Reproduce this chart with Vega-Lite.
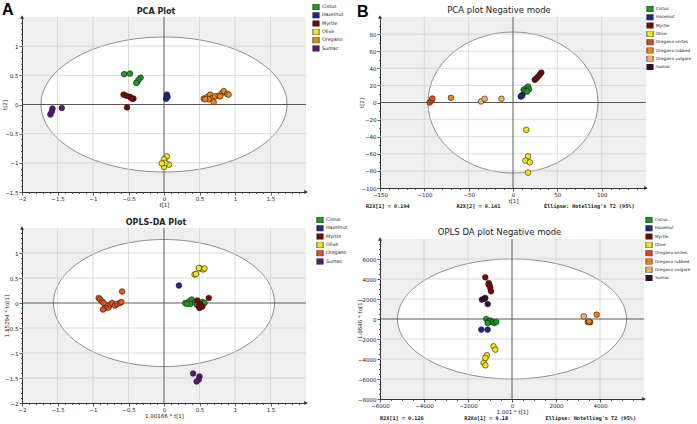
{
"$schema": "https://vega.github.io/schema/vega-lite/v6.json",
"padding": {"left": 2, "top": 2, "right": 0, "bottom": 0},
"background": "white",
"config": {
  "font": "DejaVu Sans",
  "view": {"fill": "#efefef", "stroke": null},
  "axis": {"labelFont": "DejaVu Sans", "titleFont": "DejaVu Sans", "labelFontSize": 5.5, "titleFontSize": 5.5, "titleFontWeight": "normal", "labelColor": "#222", "titleColor": "#222", "domainColor": "#333", "domainWidth": 1, "tickColor": "#333", "tickWidth": 0.8, "labelPadding": 1, "titlePadding": 1, "grid": false, "labelOverlap": false, "labelFlush": false},
  "legend": {"orient": "none", "symbolType": "square", "symbolSize": 40, "symbolStrokeColor": "#222", "symbolStrokeWidth": 0.7, "labelFont": "DejaVu Sans", "labelFontSize": 4.8, "labelColor": "#222", "rowPadding": 2.3, "clipHeight": 6, "labelOffset": 2, "padding": 0},
  "title": {"font": "DejaVu Sans", "color": "#222", "fontSize": 8}
},
"datasets": {
  "pA": [
    {"g":"Cistus","x":-0.56,"y":0.52},{"g":"Cistus","x":-0.48,"y":0.53},{"g":"Cistus","x":-0.38,"y":0.38},{"g":"Cistus","x":-0.33,"y":0.46},{"g":"Cistus","x":-0.36,"y":0.42},{"g":"Cistus","x":-0.39,"y":0.37},
    {"g":"Hazelnut","x":0.04,"y":0.17},{"g":"Hazelnut","x":0.03,"y":0.10},{"g":"Hazelnut","x":0.05,"y":0.13},
    {"g":"Myrtle","x":-0.57,"y":0.17},{"g":"Myrtle","x":-0.53,"y":0.15},{"g":"Myrtle","x":-0.48,"y":0.13},{"g":"Myrtle","x":-0.43,"y":0.10},{"g":"Myrtle","x":-0.45,"y":0.10},{"g":"Myrtle","x":-0.52,"y":-0.05},
    {"g":"Olive","x":0.04,"y":-0.89},{"g":"Olive","x":0.0,"y":-0.94},{"g":"Olive","x":0.07,"y":-1.03},{"g":"Olive","x":0.0,"y":-1.07},{"g":"Olive","x":0.02,"y":-1.0},{"g":"Olive","x":-0.03,"y":-1.01},
    {"g":"Oregano","x":0.56,"y":0.10},{"g":"Oregano","x":0.61,"y":0.13},{"g":"Oregano","x":0.65,"y":0.17},{"g":"Oregano","x":0.68,"y":0.11},{"g":"Oregano","x":0.63,"y":0.09},{"g":"Oregano","x":0.70,"y":0.04},{"g":"Oregano","x":0.72,"y":0.14},{"g":"Oregano","x":0.77,"y":0.15},{"g":"Oregano","x":0.82,"y":0.20},{"g":"Oregano","x":0.84,"y":0.23},{"g":"Oregano","x":0.89,"y":0.18},{"g":"Oregano","x":0.91,"y":0.17},{"g":"Oregano","x":0.79,"y":0.14},{"g":"Oregano","x":0.58,"y":0.09},
    {"g":"Sumac","x":-1.57,"y":-0.07},{"g":"Sumac","x":-1.60,"y":-0.17},{"g":"Sumac","x":-1.44,"y":-0.06},{"g":"Sumac","x":-1.58,"y":-0.12}
  ],
  "pB": [
    {"g":"Cistus","x":12,"y":14.8},{"g":"Cistus","x":15,"y":16.8},{"g":"Cistus","x":17,"y":18.7},{"g":"Cistus","x":13,"y":12.9},{"g":"Cistus","x":18,"y":15.6},{"g":"Cistus","x":16,"y":13},
    {"g":"Hazelnut","x":8.7,"y":7},{"g":"Hazelnut","x":10.5,"y":8.6},{"g":"Hazelnut","x":9.5,"y":7.5},
    {"g":"Myrtle","x":24.5,"y":26.5},{"g":"Myrtle","x":26,"y":28},{"g":"Myrtle","x":28,"y":30},{"g":"Myrtle","x":30,"y":32.5},{"g":"Myrtle","x":32,"y":35},
    {"g":"Olive","x":15,"y":-32},{"g":"Olive","x":17,"y":-63},{"g":"Olive","x":14,"y":-68},{"g":"Olive","x":19,"y":-70},{"g":"Olive","x":17,"y":-82},
    {"g":"Oregano onites","x":-94,"y":0},{"g":"Oregano onites","x":-92,"y":2.3},{"g":"Oregano onites","x":-91,"y":4.7},
    {"g":"Oregano rubbed","x":-70,"y":5.5},
    {"g":"Oregano vulgare","x":-36,"y":1.2},{"g":"Oregano vulgare","x":-32,"y":4.3},{"g":"Oregano vulgare","x":-13,"y":4.3}
  ],
  "pC": [
    {"g":"Oregano","x":-0.92,"y":0.10},{"g":"Oregano","x":-0.90,"y":0.07},{"g":"Oregano","x":-0.87,"y":0.03},{"g":"Oregano","x":-0.85,"y":0.0},{"g":"Oregano","x":-0.83,"y":-0.10},{"g":"Oregano","x":-0.86,"y":-0.13},{"g":"Oregano","x":-0.78,"y":-0.09},{"g":"Oregano","x":-0.76,"y":-0.03},{"g":"Oregano","x":-0.73,"y":0.0},{"g":"Oregano","x":-0.69,"y":-0.05},{"g":"Oregano","x":-0.66,"y":-0.02},{"g":"Oregano","x":-0.62,"y":0.0},{"g":"Oregano","x":-0.60,"y":0.02},{"g":"Oregano","x":-0.59,"y":0.23},
    {"g":"Hazelnut","x":0.21,"y":0.35},
    {"g":"Olive","x":0.43,"y":0.57},{"g":"Olive","x":0.45,"y":0.58},{"g":"Olive","x":0.51,"y":0.69},{"g":"Olive","x":0.55,"y":0.67},{"g":"Olive","x":0.57,"y":0.69},{"g":"Olive","x":0.49,"y":0.70},
    {"g":"Cistus","x":0.30,"y":0.0},{"g":"Cistus","x":0.35,"y":0.03},{"g":"Cistus","x":0.39,"y":0.07},{"g":"Cistus","x":0.37,"y":-0.02},{"g":"Cistus","x":0.44,"y":0.02},{"g":"Cistus","x":0.46,"y":-0.03},{"g":"Cistus","x":0.54,"y":0.02},{"g":"Cistus","x":0.57,"y":0.0},{"g":"Cistus","x":0.32,"y":-0.02},
    {"g":"Myrtle","x":0.47,"y":0.05},{"g":"Myrtle","x":0.51,"y":-0.02},{"g":"Myrtle","x":0.50,"y":-0.10},{"g":"Myrtle","x":0.54,"y":-0.07},{"g":"Myrtle","x":0.63,"y":0.10},{"g":"Myrtle","x":0.49,"y":-0.07},
    {"g":"Sumac","x":0.41,"y":-1.41},{"g":"Sumac","x":0.50,"y":-1.47},{"g":"Sumac","x":0.49,"y":-1.53},{"g":"Sumac","x":0.46,"y":-1.57}
  ],
  "pD": [
    {"g":"Cistus","x":-1168,"y":0},{"g":"Cistus","x":-1061,"y":-230},{"g":"Cistus","x":-986,"y":-160},{"g":"Cistus","x":-909,"y":-300},{"g":"Cistus","x":-805,"y":-400},{"g":"Cistus","x":-714,"y":-300},{"g":"Cistus","x":-1106,"y":-400},
    {"g":"Hazelnut","x":-1395,"y":-1060},{"g":"Hazelnut","x":-1106,"y":-1060},
    {"g":"Myrtle","x":-1214,"y":4170},{"g":"Myrtle","x":-1061,"y":3600},{"g":"Myrtle","x":-1015,"y":3330},{"g":"Myrtle","x":-986,"y":3100},{"g":"Myrtle","x":-955,"y":2770},{"g":"Myrtle","x":-1061,"y":3440},
    {"g":"Olive","x":-840,"y":-2730},{"g":"Olive","x":-760,"y":-3060},{"g":"Olive","x":-1140,"y":-3630},{"g":"Olive","x":-1210,"y":-3900},{"g":"Olive","x":-1290,"y":-4400},{"g":"Olive","x":-1210,"y":-4630},
    {"g":"Oregano vulgare","x":3260,"y":270},
    {"g":"Oregano onites","x":3450,"y":-300},{"g":"Oregano onites","x":3550,"y":-320},
    {"g":"Oregano rubbed","x":3500,"y":-250},{"g":"Oregano rubbed","x":3850,"y":430},
    {"g":"Sumac","x":-1364,"y":1940},{"g":"Sumac","x":-1214,"y":2100},{"g":"Sumac","x":-1106,"y":1500},{"g":"Sumac","x":-1259,"y":2040}
  ],
  "gAx": [{"x":-1.5},{"x":-1},{"x":-0.5},{"x":0.5},{"x":1},{"x":1.5}],
  "gAy": [{"y":-1},{"y":-0.5},{"y":0.5},{"y":1}],
  "gCy": [{"y":-1.5},{"y":-1},{"y":-0.5},{"y":0.5},{"y":1}],
  "gBx": [{"x":-100},{"x":-50},{"x":50},{"x":100}],
  "gBy": [{"y":-80},{"y":-60},{"y":-40},{"y":-20},{"y":20},{"y":40},{"y":60},{"y":80}],
  "gDx": [{"x":-4000},{"x":-2000},{"x":2000},{"x":4000}],
  "gDy": [{"y":-6000},{"y":-4000},{"y":-2000},{"y":2000},{"y":4000},{"y":6000}]
},
"resolve": {"scale": {"color": "independent", "x": "independent", "y": "independent"}, "legend": {"color": "independent"}},
"spacing": 9,
"hconcat": [
{
  "title": {"text": "A", "anchor": "start", "frame": "bounds", "font": "Liberation Sans", "fontSize": 16, "fontWeight": "bold", "color": "#000", "offset": -14},
  "spacing": 9,
  "resolve": {"scale": {"color": "independent", "x": "independent", "y": "independent"}, "legend": {"color": "independent"}},
  "vconcat": [
  {
    "width": 284, "height": 175,
    "title": {"text": "PCA Plot", "anchor": "middle", "fontWeight": "bold", "fontSize": 8, "offset": -11.5, "dx": -8},
    "data": {"values": [{}]},
    "resolve": {"axis": {"x": "independent", "y": "independent"}},
    "layer": [
      {"mark": {"type": "point", "shape": "M-123,0C-123,-37.3,-67.9,-67.5,0,-67.5C67.9,-67.5,123,-37.3,123,0C123,37.3,67.9,67.5,0,67.5C-67.9,67.5,-123,37.3,-123,0Z", "size": 4, "filled": true, "fill": "#ffffff", "stroke": "#808080", "strokeWidth": 0.9, "opacity": 1},
       "encoding": {"x": {"datum": 0, "type": "quantitative", "scale": {"domain": [-2, 2], "nice": false}, "axis": null}, "y": {"datum": 0, "type": "quantitative", "scale": {"domain": [-1.5, 1.5], "nice": false}, "axis": null}}},
      {"data": {"name": "gAx"}, "mark": {"type": "rule", "color": "#d2d2d2", "strokeWidth": 0.8},
       "encoding": {"x": {"field": "x", "type": "quantitative", "scale": {"domain": [-2, 2], "nice": false}, "axis": null}}},
      {"data": {"name": "gAy"}, "mark": {"type": "rule", "color": "#d2d2d2", "strokeWidth": 0.8},
       "encoding": {"y": {"field": "y", "type": "quantitative", "scale": {"domain": [-1.5, 1.5], "nice": false}, "axis": null}}},
      {"mark": {"type": "rule", "color": "#5a5a5a", "strokeWidth": 1},
       "encoding": {"x": {"datum": 0, "type": "quantitative", "scale": {"domain": [-2, 2], "nice": false}, "axis": null}}},
      {"mark": {"type": "rule", "color": "#5a5a5a", "strokeWidth": 1},
       "encoding": {"y": {"datum": 0, "type": "quantitative", "scale": {"domain": [-1.5, 1.5], "nice": false}, "axis": null}}},
      {"mark": {"type": "point", "shape": "triangle-right", "size": 16, "filled": true, "color": "#333", "opacity": 1},
       "encoding": {"x": {"datum": 2, "type": "quantitative", "scale": {"domain": [-2, 2], "nice": false}, "axis": null}, "y": {"datum": -1.5, "type": "quantitative", "scale": {"domain": [-1.5, 1.5], "nice": false}, "axis": null}}},
      {"mark": {"type": "point", "shape": "triangle-up", "size": 16, "filled": true, "color": "#333", "opacity": 1},
       "encoding": {"x": {"datum": -2, "type": "quantitative", "scale": {"domain": [-2, 2], "nice": false}, "axis": null}, "y": {"datum": 1.5, "type": "quantitative", "scale": {"domain": [-1.5, 1.5], "nice": false}, "axis": null}}},
      {"data": {"name": "pA"}, "mark": {"type": "point", "filled": true, "size": 32, "stroke": "#1a1a1a", "strokeWidth": 0.6, "opacity": 1},
       "encoding": {
         "x": {"field": "x", "type": "quantitative", "scale": {"domain": [-2, 2], "nice": false},
               "axis": {"title": "t[1]", "format": "~g", "values": [-2,-1.9,-1.8,-1.7,-1.6,-1.5,-1.4,-1.3,-1.2,-1.1,-1,-0.9,-0.8,-0.7,-0.6,-0.5,-0.4,-0.3,-0.2,-0.1,0,0.1,0.2,0.3,0.4,0.5,0.6,0.7,0.8,0.9,1,1.1,1.2,1.3,1.4,1.5,1.6,1.7,1.8,1.9],
                        "labelExpr": "abs(datum.value*2-round(datum.value*2))<0.001 ? datum.label : ''",
                        "tickSize": {"condition": {"test": "abs(datum.value*2-round(datum.value*2))<0.001", "value": 3}, "value": 1.5}}},
         "y": {"field": "y", "type": "quantitative", "scale": {"domain": [-1.5, 1.5], "nice": false},
               "axis": {"title": "t[2]", "format": "~g", "values": [-1.5,-1.4,-1.3,-1.2,-1.1,-1,-0.9,-0.8,-0.7,-0.6,-0.5,-0.4,-0.3,-0.2,-0.1,0,0.1,0.2,0.3,0.4,0.5,0.6,0.7,0.8,0.9,1,1.1,1.2,1.3,1.4],
                        "labelExpr": "abs(datum.value*2-round(datum.value*2))<0.001 ? datum.label : ''",
                        "tickSize": {"condition": {"test": "abs(datum.value*2-round(datum.value*2))<0.001", "value": 3}, "value": 1.5},
                        "minExtent": 14, "maxExtent": 14}},
         "color": {"field": "g", "type": "nominal",
                   "scale": {"domain": ["Cistus","Hazelnut","Myrtle","Olive","Oregano","Sumac"], "range": ["#229a22","#1c2a8a","#780808","#f4e61a","#f08412","#5a187a"]},
                   "legend": {"title": null, "legendX": 290, "legendY": -13}}
       }}
    ]
  },
  {
    "width": 284, "height": 175,
    "title": {"text": "OPLS-DA Plot", "anchor": "middle", "fontWeight": "bold", "fontSize": 8, "offset": -10, "dx": -8},
    "data": {"values": [{}]},
    "resolve": {"axis": {"x": "independent", "y": "independent"}},
    "layer": [
      {"mark": {"type": "point", "shape": "M-110.5,0C-110.5,-35.1,-61,-63.5,0,-63.5C61,-63.5,110.5,-35.1,110.5,0C110.5,35.1,61,63.5,0,63.5C-61,63.5,-110.5,35.1,-110.5,0Z", "size": 4, "filled": true, "fill": "#ffffff", "stroke": "#808080", "strokeWidth": 0.9, "opacity": 1},
       "encoding": {"x": {"datum": 0, "type": "quantitative", "scale": {"domain": [-2, 2], "nice": false}, "axis": null}, "y": {"datum": 0, "type": "quantitative", "scale": {"domain": [-2, 1.5], "nice": false}, "axis": null}}},
      {"data": {"name": "gAx"}, "mark": {"type": "rule", "color": "#d2d2d2", "strokeWidth": 0.8},
       "encoding": {"x": {"field": "x", "type": "quantitative", "scale": {"domain": [-2, 2], "nice": false}, "axis": null}}},
      {"data": {"name": "gCy"}, "mark": {"type": "rule", "color": "#d2d2d2", "strokeWidth": 0.8},
       "encoding": {"y": {"field": "y", "type": "quantitative", "scale": {"domain": [-2, 1.5], "nice": false}, "axis": null}}},
      {"mark": {"type": "rule", "color": "#5a5a5a", "strokeWidth": 1},
       "encoding": {"x": {"datum": 0, "type": "quantitative", "scale": {"domain": [-2, 2], "nice": false}, "axis": null}}},
      {"mark": {"type": "rule", "color": "#5a5a5a", "strokeWidth": 1},
       "encoding": {"y": {"datum": 0, "type": "quantitative", "scale": {"domain": [-2, 1.5], "nice": false}, "axis": null}}},
      {"mark": {"type": "point", "shape": "triangle-right", "size": 16, "filled": true, "color": "#333", "opacity": 1},
       "encoding": {"x": {"datum": 2, "type": "quantitative", "scale": {"domain": [-2, 2], "nice": false}, "axis": null}, "y": {"datum": -2, "type": "quantitative", "scale": {"domain": [-2, 1.5], "nice": false}, "axis": null}}},
      {"mark": {"type": "point", "shape": "triangle-up", "size": 16, "filled": true, "color": "#333", "opacity": 1},
       "encoding": {"x": {"datum": -2, "type": "quantitative", "scale": {"domain": [-2, 2], "nice": false}, "axis": null}, "y": {"datum": 1.5, "type": "quantitative", "scale": {"domain": [-2, 1.5], "nice": false}, "axis": null}}},
      {"data": {"name": "pC"}, "mark": {"type": "point", "filled": true, "size": 32, "stroke": "#1a1a1a", "strokeWidth": 0.6, "opacity": 1},
       "encoding": {
         "x": {"field": "x", "type": "quantitative", "scale": {"domain": [-2, 2], "nice": false},
               "axis": {"title": "1.00166 * t[1]", "format": "~g", "values": [-2,-1.9,-1.8,-1.7,-1.6,-1.5,-1.4,-1.3,-1.2,-1.1,-1,-0.9,-0.8,-0.7,-0.6,-0.5,-0.4,-0.3,-0.2,-0.1,0,0.1,0.2,0.3,0.4,0.5,0.6,0.7,0.8,0.9,1,1.1,1.2,1.3,1.4,1.5,1.6,1.7,1.8,1.9],
                        "labelExpr": "abs(datum.value*2-round(datum.value*2))<0.001 ? datum.label : ''",
                        "tickSize": {"condition": {"test": "abs(datum.value*2-round(datum.value*2))<0.001", "value": 3}, "value": 1.5}}},
         "y": {"field": "y", "type": "quantitative", "scale": {"domain": [-2, 1.5], "nice": false},
               "axis": {"title": "1.15294 * to[1]", "format": "~g", "values": [-2,-1.9,-1.8,-1.7,-1.6,-1.5,-1.4,-1.3,-1.2,-1.1,-1,-0.9,-0.8,-0.7,-0.6,-0.5,-0.4,-0.3,-0.2,-0.1,0,0.1,0.2,0.3,0.4,0.5,0.6,0.7,0.8,0.9,1,1.1,1.2,1.3,1.4],
                        "labelExpr": "abs(datum.value*2-round(datum.value*2))<0.001 ? datum.label : ''",
                        "tickSize": {"condition": {"test": "abs(datum.value*2-round(datum.value*2))<0.001", "value": 3}, "value": 1.5},
                        "minExtent": 12, "maxExtent": 12}},
         "color": {"field": "g", "type": "nominal",
                   "scale": {"domain": ["Cistus","Hazelnut","Myrtle","Olive","Oregano","Sumac"], "range": ["#229a22","#1c2a8a","#780808","#f4e61a","#ea5218","#5a187a"]},
                   "legend": {"title": null, "legendX": 294, "legendY": -11}}
       }}
    ]
  }
  ]
},
{
  "title": {"text": "B", "anchor": "start", "frame": "bounds", "font": "Liberation Sans", "fontSize": 16, "fontWeight": "bold", "color": "#000", "offset": -14},
  "spacing": 7,
  "resolve": {"scale": {"color": "independent", "x": "independent", "y": "independent"}, "legend": {"color": "independent"}},
  "vconcat": [
  {
    "title": {"text": "PCA plot Negative mode", "anchor": "middle", "fontWeight": "normal", "fontSize": 8.5, "offset": -8, "dx": -26},
    "vconcat": [
    {
      "width": 266, "height": 171,
      "title": {"text": "R2X[1] = 0.194\u00a0\u00a0\u00a0\u00a0\u00a0\u00a0\u00a0\u00a0\u00a0\u00a0\u00a0\u00a0\u00a0\u00a0\u00a0R2X[2] = 0.141\u00a0\u00a0\u00a0\u00a0\u00a0\u00a0\u00a0\u00a0\u00a0\u00a0\u00a0\u00a0\u00a0\u00a0Ellipse: Hotelling's T2 (95%)", "orient": "bottom", "anchor": "start", "frame": "bounds", "font": "DejaVu Sans Mono", "fontSize": 5.2, "fontWeight": "bold", "color": "#111", "offset": 0, "dx": 7},
      "data": {"values": [{}]},
      "resolve": {"axis": {"x": "independent", "y": "independent"}},
      "layer": [
        {"mark": {"type": "point", "shape": "M-85,0C-85,-38.9,-46.9,-70.5,0,-70.5C46.9,-70.5,85,-38.9,85,0C85,38.9,46.9,70.5,0,70.5C-46.9,70.5,-85,38.9,-85,0Z", "size": 4, "filled": true, "fill": "#ffffff", "stroke": "#808080", "strokeWidth": 0.9, "opacity": 1},
         "encoding": {"x": {"datum": 0, "type": "quantitative", "scale": {"domain": [-150, 150], "nice": false}, "axis": null}, "y": {"datum": 0, "type": "quantitative", "scale": {"domain": [-100, 100], "nice": false}, "axis": null}}},
        {"data": {"name": "gBx"}, "mark": {"type": "rule", "color": "#d2d2d2", "strokeWidth": 0.8},
         "encoding": {"x": {"field": "x", "type": "quantitative", "scale": {"domain": [-150, 150], "nice": false}, "axis": null}}},
        {"data": {"name": "gBy"}, "mark": {"type": "rule", "color": "#d2d2d2", "strokeWidth": 0.8},
         "encoding": {"y": {"field": "y", "type": "quantitative", "scale": {"domain": [-100, 100], "nice": false}, "axis": null}}},
        {"mark": {"type": "rule", "color": "#5a5a5a", "strokeWidth": 1},
         "encoding": {"x": {"datum": 0, "type": "quantitative", "scale": {"domain": [-150, 150], "nice": false}, "axis": null}}},
        {"mark": {"type": "rule", "color": "#5a5a5a", "strokeWidth": 1},
         "encoding": {"y": {"datum": 0, "type": "quantitative", "scale": {"domain": [-100, 100], "nice": false}, "axis": null}}},
        {"mark": {"type": "point", "shape": "triangle-right", "size": 16, "filled": true, "color": "#333", "opacity": 1},
         "encoding": {"x": {"datum": 150, "type": "quantitative", "scale": {"domain": [-150, 150], "nice": false}, "axis": null}, "y": {"datum": -100, "type": "quantitative", "scale": {"domain": [-100, 100], "nice": false}, "axis": null}}},
        {"mark": {"type": "point", "shape": "triangle-up", "size": 16, "filled": true, "color": "#333", "opacity": 1},
         "encoding": {"x": {"datum": -150, "type": "quantitative", "scale": {"domain": [-150, 150], "nice": false}, "axis": null}, "y": {"datum": 100, "type": "quantitative", "scale": {"domain": [-100, 100], "nice": false}, "axis": null}}},
        {"data": {"name": "pB"}, "mark": {"type": "point", "filled": true, "size": 32, "stroke": "#1a1a1a", "strokeWidth": 0.6, "opacity": 1},
         "encoding": {
           "x": {"field": "x", "type": "quantitative", "scale": {"domain": [-150, 150], "nice": false},
                 "axis": {"title": "t[1]", "format": "d", "values": [-150,-140,-130,-120,-110,-100,-90,-80,-70,-60,-50,-40,-30,-20,-10,0,10,20,30,40,50,60,70,80,90,100,110,120,130,140],
                          "labelExpr": "datum.value % 50 == 0 ? datum.label : ''",
                          "tickSize": {"condition": {"test": "datum.value % 50 == 0", "value": 3}, "value": 1.5}}},
           "y": {"field": "y", "type": "quantitative", "scale": {"domain": [-100, 100], "nice": false},
                 "axis": {"title": "t[2]", "format": "d", "values": [-100,-90,-80,-70,-60,-50,-40,-30,-20,-10,0,10,20,30,40,50,60,70,80,90],
                          "labelExpr": "datum.value % 20 == 0 ? datum.label : ''",
                          "tickSize": {"condition": {"test": "datum.value % 20 == 0", "value": 3}, "value": 1.5},
                          "minExtent": 15, "maxExtent": 15}},
           "color": {"field": "g", "type": "nominal",
                     "scale": {"domain": ["Cistus","Hazelnut","Myrtle","Olive","Oregano onites","Oregano rubbed","Oregano vulgare","Sumac"], "range": ["#229a22","#1c2a8a","#780808","#f4e61a","#e8461a","#ef8412","#f3b164","#3a0838"]},
                     "legend": {"title": null, "legendX": 266, "legendY": -11, "labelFontSize": 4.2}}
         }}
      ]
    }
    ]
  },
  {
    "title": {"text": "OPLS DA plot Negative mode", "anchor": "middle", "fontWeight": "normal", "fontSize": 8.5, "offset": -19, "dx": -24},
    "vconcat": [
    {
      "width": 264, "height": 160,
      "title": {"text": "R2X[1] = 0.126\u00a0\u00a0\u00a0\u00a0\u00a0\u00a0\u00a0\u00a0\u00a0\u00a0\u00a0\u00a0\u00a0R2Xo[1] = 0.18\u00a0\u00a0\u00a0\u00a0\u00a0\u00a0\u00a0\u00a0\u00a0\u00a0\u00a0\u00a0Ellipse: Hotelling's T2 (95%)", "orient": "bottom", "anchor": "start", "frame": "bounds", "font": "DejaVu Sans Mono", "fontSize": 5.2, "fontWeight": "bold", "color": "#111", "offset": 0.5, "dx": 23},
      "data": {"values": [{}]},
      "resolve": {"axis": {"x": "independent", "y": "independent"}},
      "layer": [
        {"mark": {"type": "point", "shape": "M-114.5,0C-114.5,-33.1,-63.2,-60,0,-60C63.2,-60,114.5,-33.1,114.5,0C114.5,33.1,63.2,60,0,60C-63.2,60,-114.5,33.1,-114.5,0Z", "size": 4, "filled": true, "fill": "#ffffff", "stroke": "#808080", "strokeWidth": 0.9, "opacity": 1},
         "encoding": {"x": {"datum": 0, "type": "quantitative", "scale": {"domain": [-6000, 6000], "nice": false}, "axis": null}, "y": {"datum": 0, "type": "quantitative", "scale": {"domain": [-8000, 8000], "nice": false}, "axis": null}}},
        {"data": {"name": "gDx"}, "mark": {"type": "rule", "color": "#d2d2d2", "strokeWidth": 0.8},
         "encoding": {"x": {"field": "x", "type": "quantitative", "scale": {"domain": [-6000, 6000], "nice": false}, "axis": null}}},
        {"data": {"name": "gDy"}, "mark": {"type": "rule", "color": "#d2d2d2", "strokeWidth": 0.8},
         "encoding": {"y": {"field": "y", "type": "quantitative", "scale": {"domain": [-8000, 8000], "nice": false}, "axis": null}}},
        {"mark": {"type": "rule", "color": "#5a5a5a", "strokeWidth": 1},
         "encoding": {"x": {"datum": 0, "type": "quantitative", "scale": {"domain": [-6000, 6000], "nice": false}, "axis": null}}},
        {"mark": {"type": "rule", "color": "#5a5a5a", "strokeWidth": 1},
         "encoding": {"y": {"datum": 0, "type": "quantitative", "scale": {"domain": [-8000, 8000], "nice": false}, "axis": null}}},
        {"mark": {"type": "point", "shape": "triangle-right", "size": 16, "filled": true, "color": "#333", "opacity": 1},
         "encoding": {"x": {"datum": 6000, "type": "quantitative", "scale": {"domain": [-6000, 6000], "nice": false}, "axis": null}, "y": {"datum": -8000, "type": "quantitative", "scale": {"domain": [-8000, 8000], "nice": false}, "axis": null}}},
        {"mark": {"type": "point", "shape": "triangle-up", "size": 16, "filled": true, "color": "#333", "opacity": 1},
         "encoding": {"x": {"datum": -6000, "type": "quantitative", "scale": {"domain": [-6000, 6000], "nice": false}, "axis": null}, "y": {"datum": 8000, "type": "quantitative", "scale": {"domain": [-8000, 8000], "nice": false}, "axis": null}}},
        {"data": {"name": "pD"}, "mark": {"type": "point", "filled": true, "size": 32, "stroke": "#1a1a1a", "strokeWidth": 0.6, "opacity": 1},
         "encoding": {
           "x": {"field": "x", "type": "quantitative", "scale": {"domain": [-6000, 6000], "nice": false},
                 "axis": {"title": "1.001 * t[1]", "format": "d", "values": [-6000,-5500,-5000,-4500,-4000,-3500,-3000,-2500,-2000,-1500,-1000,-500,0,500,1000,1500,2000,2500,3000,3500,4000,4500,5000,5500],
                          "labelExpr": "datum.value % 2000 == 0 ? datum.label : ''",
                          "tickSize": {"condition": {"test": "datum.value % 2000 == 0", "value": 3}, "value": 1.5}}},
           "y": {"field": "y", "type": "quantitative", "scale": {"domain": [-8000, 8000], "nice": false},
                 "axis": {"title": "1.0646 * to[1]", "format": "d", "values": [-8000,-7500,-7000,-6500,-6000,-5500,-5000,-4500,-4000,-3500,-3000,-2500,-2000,-1500,-1000,-500,0,500,1000,1500,2000,2500,3000,3500,4000,4500,5000,5500,6000,6500,7000,7500],
                          "labelExpr": "datum.value % 2000 == 0 ? datum.label : ''",
                          "tickSize": {"condition": {"test": "datum.value % 2000 == 0", "value": 3}, "value": 1.5},
                          "minExtent": 17, "maxExtent": 17}},
           "color": {"field": "g", "type": "nominal",
                     "scale": {"domain": ["Cistus","Hazelnut","Myrtle","Olive","Oregano onites","Oregano rubbed","Oregano vulgare","Sumac"], "range": ["#229a22","#1c2a8a","#780808","#f4e61a","#e8461a","#ef8412","#f3b164","#3a0838"]},
                     "legend": {"title": null, "legendX": 265, "legendY": -22, "labelFontSize": 4.2}}
         }}
      ]
    }
    ]
  }
  ]
}
]
}
